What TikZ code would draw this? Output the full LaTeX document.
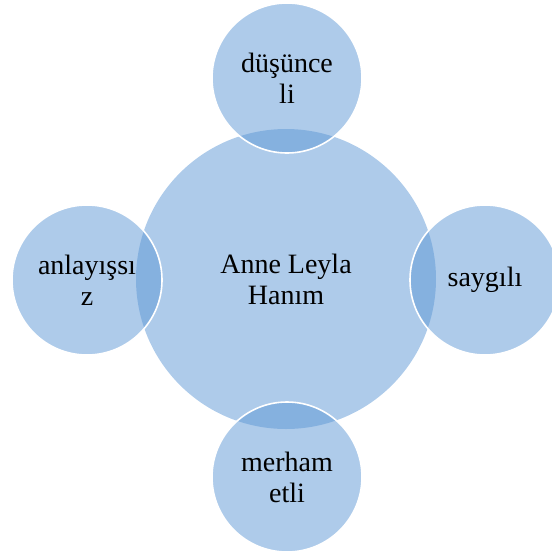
\documentclass[tikz,border=0pt]{standalone}
\usepackage{fontspec}
\setmainfont{Liberation Serif}
\definecolor{bubble}{RGB}{93,151,213}
\tikzset{
  bigbubble/.style={circle, fill=bubble, fill opacity=0.5, text opacity=1, minimum size=300pt, inner sep=0pt, align=center, font=\fontsize{28}{31}\selectfont},
  smallbubble/.style={circle, fill=bubble, fill opacity=0.5, draw=white, draw opacity=1, line width=1.6pt, text opacity=1, minimum size=150pt, inner sep=0pt, align=center, font=\fontsize{28}{31}\selectfont}
}
\begin{document}
\begin{tikzpicture}[x=1pt,y=-1pt]
\useasboundingbox (0,0) rectangle (552,558);
\clip (0,0) rectangle (552,558);
\node[bigbubble] (c) at (286,279) {Anne Leyla\\Hanım};
\node[smallbubble] (t) at (287,78) {düşünce\\li};
\node[smallbubble] (r) at (485,280) {saygılı};
\node[smallbubble] (b) at (287,477) {merham\\etli};
\node[smallbubble] (l) at (87,280) {anlayışsı\\z};
\end{tikzpicture}
\end{document}
